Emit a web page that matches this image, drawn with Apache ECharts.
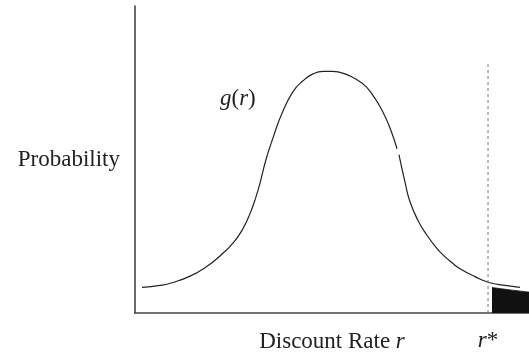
<!DOCTYPE html>
<html>
<head>
<meta charset="utf-8">
<script src="https://cdn.jsdelivr.net/npm/echarts@6/dist/echarts.min.js"></script>
<style>html,body{margin:0;padding:0;background:#fff}#c{width:529px;height:358px}</style>
</head>
<body>
<div id="c"></div>
<script>
// discount rate r (arbitrary units 0..100 along the axis) and density g(r)
const rLeft = [1.78, 6.35, 9.64, 13.96, 18.27, 21.57, 24.87, 27.16, 29.19, 30.71, 31.73, 33.25, 35.03, 37.31, 40.10, 42.64, 45.18, 47.72, 50.25, 53.30, 56.35, 58.63, 60.41, 62.69, 64.72, 66.50];
const gLeft = [8.33, 8.97, 9.94, 12.0, 15.2, 18.59, 22.76, 26.92, 32.37, 37.82, 42.31, 50.0, 57.05, 65.06, 72.12, 75.64, 77.88, 78.69, 78.69, 77.88, 75.96, 73.72, 70.83, 66.03, 60.26, 53.5];
const rRight = [66.99, 68.53, 69.80, 71.83, 74.11, 76.14, 78.17, 80.46, 82.49, 86.29, 89.85, 93.91, 97.72];
const gRight = [51.6, 42.63, 36.22, 30.13, 25.32, 21.79, 18.91, 16.35, 14.42, 11.86, 9.94, 8.97, 8.33];
// shaded tail beyond r*
const tailR = [90.61, 95.18, 100];
const tailG = [8.33, 7.53, 6.83];
const rStar = 89.6;
const rStarTop = 81;

const chart = echarts.init(document.getElementById('c'));
const serif = '"Liberation Serif", "DejaVu Serif", serif';
const FS = 23;
chart.setOption({
  animation: false,
  grid: {left: 135, right: 0, top: 6, bottom: 40},
  xAxis: {
    type: 'value', min: 0, max: 100,
    axisLine: {lineStyle: {color: '#444', width: 1.6}},
    axisTick: {show: false}, axisLabel: {show: false}, splitLine: {show: false},
    name: '{a|Discount Rate }{i|r}', nameLocation: 'middle', nameGap: 17,
    nameTextStyle: {rich: {a: {fontFamily: serif, fontSize: FS, color: '#222'}, i: {fontFamily: serif, fontSize: FS, fontStyle: 'italic', color: '#222'}}}
  },
  yAxis: {
    type: 'value', min: 0, max: 100,
    axisLine: {lineStyle: {color: '#444', width: 1.6}},
    axisTick: {show: false}, axisLabel: {show: false}, splitLine: {show: false},
    name: 'Probability', nameLocation: 'middle', nameRotate: 0, nameGap: 15,
    nameTextStyle: {fontFamily: serif, fontSize: FS, color: '#222', align: 'right'}
  },
  series: [
    {type: 'line', data: rLeft.map((r, i) => [r, gLeft[i]]), smooth: 0.5, symbol: 'none', lineStyle: {color: '#222', width: 1.2}},
    {type: 'line', data: rRight.map((r, i) => [r, gRight[i]]), smooth: 0.5, symbol: 'none', lineStyle: {color: '#222', width: 1.2}},
    {type: 'line', data: tailR.map((r, i) => [r, tailG[i]]), smooth: true, symbol: 'none', lineStyle: {color: '#111', width: 0.8}, areaStyle: {color: '#111', opacity: 1}},
    {type: 'line', data: [[rStar, 0], [rStar, rStarTop]], symbol: 'none', lineStyle: {color: '#777', width: 1, type: [3, 3]},
     markPoint: {symbol: 'rect', symbolSize: 1, data: [{coord: [rStar, 0], label: {show: true, position: 'bottom', distance: 16, formatter: '{i|r}{a|*}', rich: {i: {fontFamily: serif, fontSize: FS, fontStyle: 'italic', color: '#222'}, a: {fontFamily: serif, fontSize: FS, color: '#222'}}}, itemStyle: {color: 'transparent'}}]}}
  ],
  graphic: [
    {type: 'text', left: 220, top: 87, style: {text: '{i|g}{a|(}{i|r}{a|)}', rich: {i: {fontFamily: serif, fontSize: FS, fontStyle: 'italic', fill: '#222'}, a: {fontFamily: serif, fontSize: FS, fill: '#222'}}}}
  ]
});
</script>
</body>
</html>
